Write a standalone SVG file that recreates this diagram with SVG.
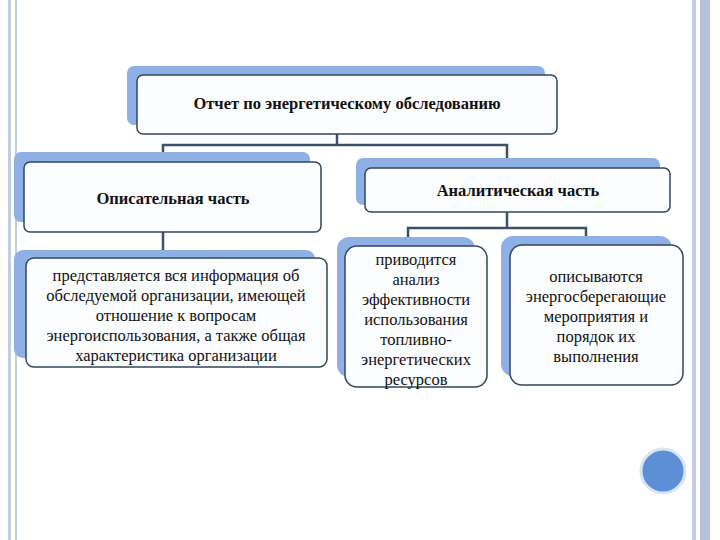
<svg xmlns="http://www.w3.org/2000/svg" width="720" height="540" viewBox="0 0 720 540">
<style>
.sh{fill:#8fb0e4}
.fr{fill:#fbfcfe;stroke:#33465c;stroke-width:1.5}
text{font-family:'Liberation Serif','DejaVu Serif',serif;font-size:16.5px;fill:#111;text-anchor:middle}
.b{font-weight:bold}
.c{fill:none;stroke:#3c5068;stroke-width:2.5}
</style>
<rect width="720" height="540" fill="#fff"/>
<rect x="8" y="0" width="3" height="540" fill="#c3cde0"/>
<rect x="15" y="0" width="2" height="540" fill="#c3cde0"/>
<rect x="692" y="0" width="4" height="540" fill="#c3cde0"/>
<rect x="700" y="0" width="10" height="540" fill="#b4c2dc"/>
<circle cx="663" cy="471" r="22" fill="#5d8fd6" stroke="#d9e4f4" stroke-width="3"/>
<g id="connectors">
<path class="c" d="M337 134V145H163V162M337 145H507V168"/>
<path class="c" d="M163 232V258"/>
<path class="c" d="M507 212V228H408V246M507 228H586V245"/>
</g>
<g id="n-report"><rect class="sh" x="127" y="66" width="418" height="59" rx="7"/><rect class="fr" x="137" y="75" width="420" height="59" rx="6"/><text class="b" x="347" y="109">Отчет по энергетическому обследованию</text></g>
<g id="n-desc"><rect class="sh" x="14" y="152" width="296" height="70" rx="7"/><rect class="fr" x="24" y="162" width="297" height="70" rx="6"/><text class="b" x="173" y="204">Описательная часть</text></g>
<g id="n-anal"><rect class="sh" x="356" y="158" width="304" height="47" rx="7"/><rect class="fr" x="365" y="168" width="305" height="44" rx="6"/><text class="b" x="518" y="196">Аналитическая часть</text></g>
<g id="n-descdet"><rect class="sh" x="14" y="250" width="301" height="108" rx="9"/><rect class="fr" x="26" y="258" width="301" height="109" rx="8"/>
<text x="176" y="281">представляется вся информация об</text><text x="176" y="301">обследуемой организации, имеющей</text><text x="176" y="321">отношение к вопросам</text><text x="176" y="341">энергоиспользования, а также общая</text><text x="176" y="361">характеристика организации</text></g>
<g id="n-an1"><rect class="sh" x="337" y="237" width="138" height="140" rx="12"/><rect class="fr" x="345" y="246" width="142" height="141" rx="12"/>
<text x="416" y="265">приводится</text><text x="416" y="285">анализ</text><text x="416" y="305">эффективности</text><text x="416" y="325">использования</text><text x="416" y="345">топливно-</text><text x="416" y="365">энергетических</text><text x="416" y="385">ресурсов</text></g>
<g id="n-an2"><rect class="sh" x="501" y="236" width="171" height="140" rx="12"/><rect class="fr" x="510" y="245" width="173" height="140" rx="12"/>
<text x="596" y="282">описываются</text><text x="596" y="302">энергосберегающие</text><text x="596" y="322">мероприятия и</text><text x="596" y="342">порядок их</text><text x="596" y="362">выполнения</text></g>
</svg>
